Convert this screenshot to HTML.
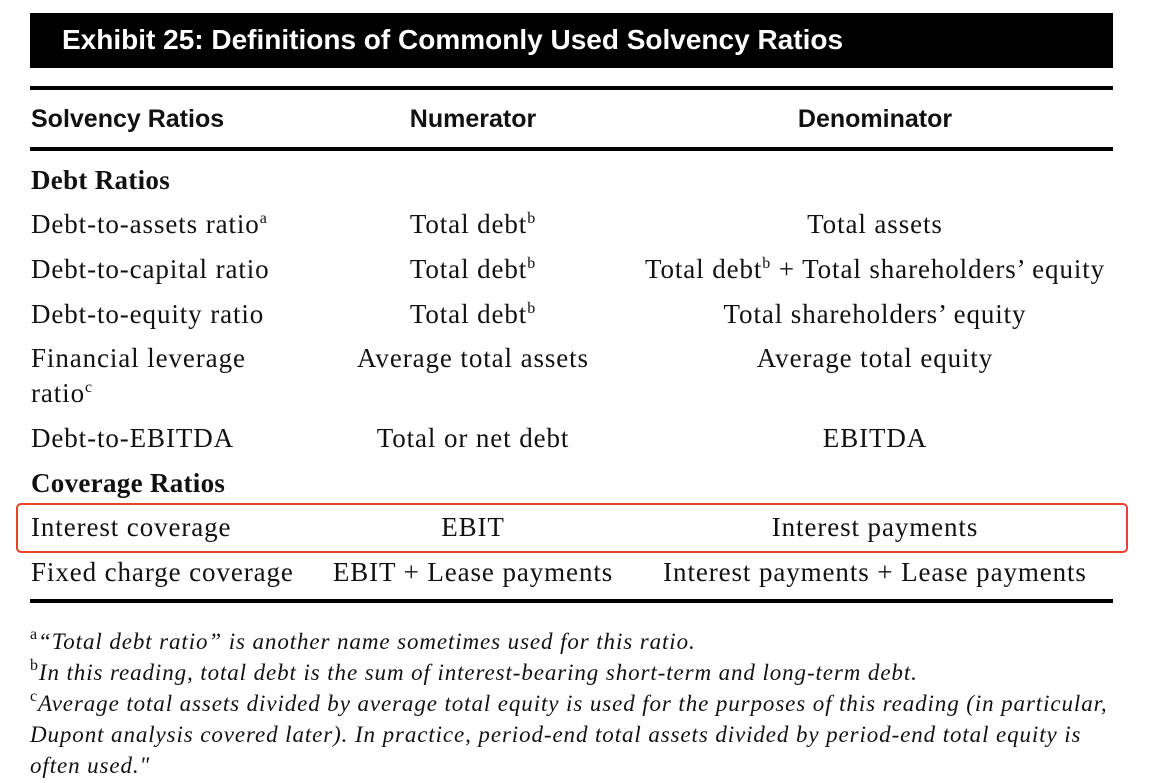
<!DOCTYPE html>
<html><head><meta charset="utf-8"><style>
body{margin:0;width:1171px;height:783px;background:#fff;position:relative;overflow:hidden;font-family:"Liberation Serif",serif;color:#111}
.a{position:absolute;white-space:nowrap;line-height:1}
.s{font-size:27px;letter-spacing:0.9px}
.c{transform:translateX(-50%)}
sup{font-size:16px;vertical-align:10px;line-height:0}
.h{font-family:"Liberation Sans",sans-serif;font-weight:bold;font-size:25px;letter-spacing:0}
.f{font-style:italic;font-size:23px;letter-spacing:0.9px}
.rule{position:absolute;left:30px;width:1083px;background:#000}
</style></head><body>
<div style="position:absolute;left:30px;top:13px;width:1083px;height:55px;background:#000"></div>
<div class="a" style="left:62px;top:26px;color:#fff;font-family:'Liberation Sans',sans-serif;font-weight:bold;font-size:28px;letter-spacing:0px">Exhibit 25: Definitions of Commonly Used Solvency Ratios</div>
<div class="rule" style="top:86px;height:4px"></div>
<div class="a h" style="left:31px;top:107px">Solvency Ratios</div>
<div class="a h c" style="left:473px;top:107px">Numerator</div>
<div class="a h c" style="left:875px;top:107px">Denominator</div>
<div class="rule" style="top:147px;height:4px"></div>

<div class="a s" style="left:31px;top:167px;font-weight:bold;letter-spacing:0.3px">Debt Ratios</div>

<div class="a s" style="left:31px;top:211px">Debt-to-assets ratio<sup>a</sup></div>
<div class="a s c" style="left:473px;top:211px">Total debt<sup>b</sup></div>
<div class="a s c" style="left:875px;top:211px">Total assets</div>

<div class="a s" style="left:31px;top:256px">Debt-to-capital ratio</div>
<div class="a s c" style="left:473px;top:256px">Total debt<sup>b</sup></div>
<div class="a s c" style="left:875px;top:256px">Total debt<sup>b</sup> + Total shareholders’ equity</div>

<div class="a s" style="left:31px;top:301px">Debt-to-equity ratio</div>
<div class="a s c" style="left:473px;top:301px">Total debt<sup>b</sup></div>
<div class="a s c" style="left:875px;top:301px">Total shareholders’ equity</div>

<div class="a s" style="left:31px;top:345px">Financial leverage</div>
<div class="a s" style="left:31px;top:380px">ratio<sup>c</sup></div>
<div class="a s c" style="left:473px;top:345px">Average total assets</div>
<div class="a s c" style="left:875px;top:345px">Average total equity</div>

<div class="a s" style="left:31px;top:425px">Debt-to-EBITDA</div>
<div class="a s c" style="left:473px;top:425px">Total or net debt</div>
<div class="a s c" style="left:875px;top:425px">EBITDA</div>

<div class="a s" style="left:31px;top:470px;font-weight:bold;letter-spacing:0.3px">Coverage Ratios</div>

<div style="position:absolute;left:16px;top:503px;width:1108px;height:46px;border:2px solid #e8402c;border-radius:5px"></div>
<div class="a s" style="left:31px;top:514px">Interest coverage</div>
<div class="a s c" style="left:473px;top:514px">EBIT</div>
<div class="a s c" style="left:875px;top:514px">Interest payments</div>

<div class="a s" style="left:31px;top:559px">Fixed charge coverage</div>
<div class="a s c" style="left:473px;top:559px">EBIT + Lease payments</div>
<div class="a s c" style="left:875px;top:559px">Interest payments + Lease payments</div>

<div class="rule" style="top:599px;height:4px"></div>

<div class="a f" style="left:30px;top:630px"><sup style="font-style:normal">a</sup>“Total debt ratio” is another name sometimes used for this ratio.</div>
<div class="a f" style="left:30px;top:661px"><sup style="font-style:normal">b</sup>In this reading, total debt is the sum of interest-bearing short-term and long-term debt.</div>
<div class="a f" style="left:30px;top:692px"><sup style="font-style:normal">c</sup>Average total assets divided by average total equity is used for the purposes of this reading (in particular,</div>
<div class="a f" style="left:30px;top:723px">Dupont analysis covered later). In practice, period-end total assets divided by period-end total equity is</div>
<div class="a f" style="left:30px;top:754px">often used."</div>
</body></html>
